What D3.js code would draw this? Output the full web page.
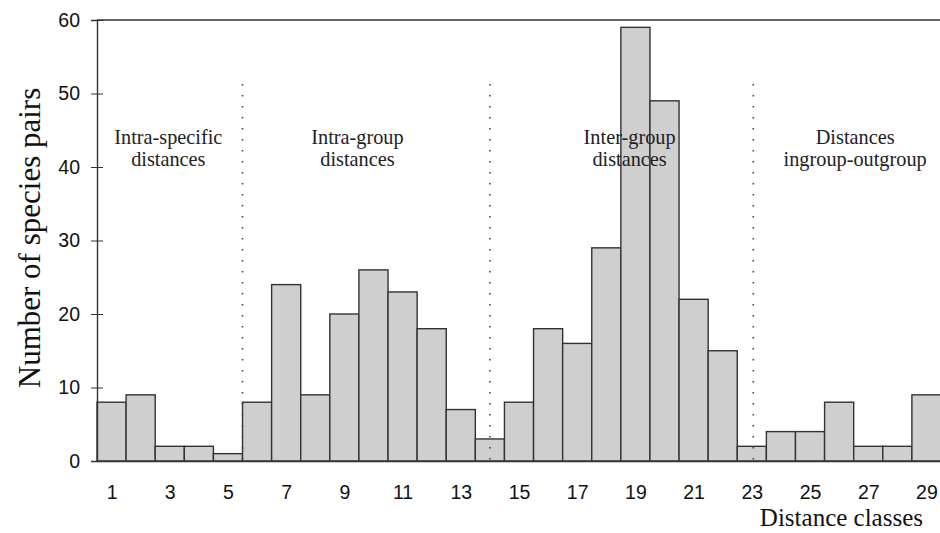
<!DOCTYPE html>
<html>
<head>
<meta charset="utf-8">
<script src="https://cdn.jsdelivr.net/npm/d3@7"></script>
<style>
  body { margin: 0; background: #fff; }
  svg { display: block; }
</style>
</head>
<body>
<svg id="chart" width="940" height="533"></svg>
<script>
// distance classes 1..29 and number of species pairs
var classes = d3.range(1, 30);
var counts = [8, 9, 2, 2, 1, 8, 24, 9, 20, 26, 23, 18, 7, 3, 8, 18, 16, 29, 59, 49, 22, 15, 2, 4, 4, 8, 2, 2, 9];
var yTicks = [0, 10, 20, 30, 40, 50, 60];
var xTickLabels = [1, 3, 5, 7, 9, 11, 13, 15, 17, 19, 21, 23, 25, 27, 29];
var dividers = [5.5, 14, 23.05];
var groupLabels = [
    { at: 2.95, lines: ["Intra-specific", "distances"] },
    { at: 9.45, lines: ["Intra-group", "distances"] },
    { at: 18.8, lines: ["Inter-group", "distances"] },
    { at: 26.55, lines: ["Distances", "ingroup-outgroup"] }
];

var svg = d3.select("svg#chart"),
    margin = { top: 20, right: -1, bottom: 72, left: 97 },
    width = 940 - margin.left - margin.right,
    height = 533 - margin.top - margin.bottom;

var x = d3.scaleLinear().domain([0.5, 29.5]).range([0, width]);
var y = d3.scaleLinear().domain([0, 60]).range([height, 0]);

var g = svg.append("g")
    .attr("transform", "translate(" + margin.left + "," + margin.top + ")");

// bars
g.selectAll(".bar")
    .data(classes)
    .enter()
    .append("rect")
    .attr("class", "bar")
    .attr("x", function (d) { return x(d - 0.5); })
    .attr("y", function (d, i) { return y(counts[i]); })
    .attr("width", function (d) { return x(d + 0.5) - x(d - 0.5); })
    .attr("height", function (d, i) { return height - y(counts[i]); })
    .attr("fill", "#cfcfcf")
    .attr("stroke", "#333")
    .attr("stroke-width", 1.4);

// dotted dividers
g.selectAll(".divider")
    .data(dividers)
    .enter()
    .append("line")
    .attr("class", "divider")
    .attr("x1", function (d) { return x(d); })
    .attr("x2", function (d) { return x(d); })
    .attr("y1", 64)
    .attr("y2", height)
    .attr("stroke", "#444")
    .attr("stroke-width", 1.6)
    .attr("stroke-dasharray", "1.4,9.6");

// group labels
var labels = g.selectAll(".group-label")
    .data(groupLabels)
    .enter()
    .append("text")
    .attr("class", "group-label")
    .attr("text-anchor", "middle")
    .style("font-family", "'Liberation Serif', 'Times New Roman', serif")
    .style("font-size", "20.3px")
    .attr("fill", "#222");

labels.selectAll("tspan")
    .data(function (d) { return d.lines.map(function (l, i) { return { at: d.at, text: l, i: i }; }); })
    .enter()
    .append("tspan")
    .attr("x", function (d) { return x(d.at); })
    .attr("y", function (d) { return 124 + d.i * 22; })
    .text(function (d) { return d.text; });

// top frame line
g.append("line")
    .attr("x1", 0)
    .attr("x2", width)
    .attr("y1", 0)
    .attr("y2", 0)
    .attr("stroke", "#666")
    .attr("stroke-width", 2);

// y axis
var yAxis = g.append("g")
    .attr("class", "axis axis--y")
    .call(d3.axisLeft(y).tickValues(yTicks).tickSize(6).tickPadding(11));
yAxis.selectAll(".tick line").attr("x2", 6).attr("x1", -6).attr("stroke", "#333");
yAxis.select("path.domain").attr("stroke", "#333").attr("stroke-width", 1.4);
yAxis.selectAll("text")
    .style("font-family", "'Liberation Sans', Arial, sans-serif")
    .style("font-size", "19.5px")
    .attr("fill", "#111");

// x axis
var xAxis = g.append("g")
    .attr("class", "axis axis--x")
    .attr("transform", "translate(0," + height + ")")
    .call(d3.axisBottom(x).tickValues(xTickLabels).tickSize(0).tickPadding(24).tickFormat(d3.format("d")));
xAxis.select("path.domain").attr("stroke", "#333").attr("stroke-width", 1.4);
xAxis.selectAll("text")
    .style("font-family", "'Liberation Sans', Arial, sans-serif")
    .style("font-size", "19.5px")
    .attr("fill", "#111");

// axis titles
svg.append("text")
    .attr("transform", "translate(40," + (margin.top + 218) + ") rotate(-90)")
    .attr("text-anchor", "middle")
    .style("font-family", "'Liberation Serif', 'Times New Roman', serif")
    .style("font-size", "31px")
    .attr("fill", "#111")
    .text("Number of species pairs");

svg.append("text")
    .attr("x", 923)
    .attr("y", 526)
    .attr("text-anchor", "end")
    .style("font-family", "'Liberation Serif', 'Times New Roman', serif")
    .style("font-size", "25px")
    .attr("fill", "#111")
    .text("Distance classes");
</script>
</body>
</html>
